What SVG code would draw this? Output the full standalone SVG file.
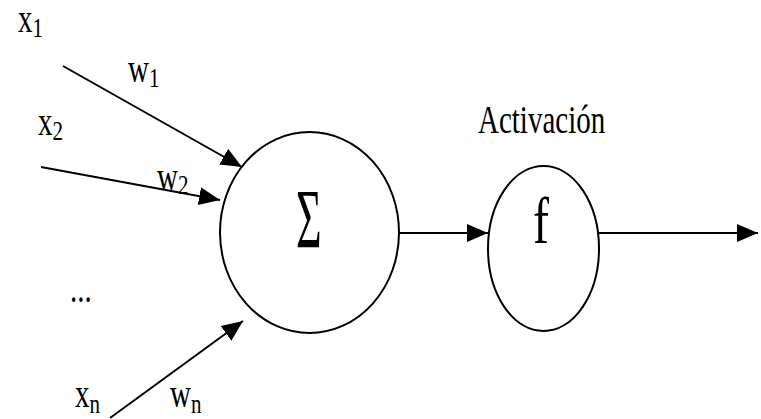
<svg xmlns="http://www.w3.org/2000/svg" width="761" height="419" viewBox="0 0 761 419">
<style>
.t{font-family:"Liberation Serif","Times New Roman",serif;font-size:29px;fill:#000}
.sub{font-size:21px}
.node{fill:#fff;stroke:#000;stroke-width:2}
.edge{stroke:#000;stroke-width:2;fill:none;marker-end:url(#ah)}
</style>
<defs>
<marker id="ah" markerUnits="userSpaceOnUse" markerWidth="22" markerHeight="20" viewBox="0 0 22 20" refX="21" refY="10" orient="auto">
<path d="M0,1 L21,10 L0,19 Z" fill="#000"/>
</marker>
</defs>
<rect width="761" height="419" fill="#fff"/>
<g id="connectors">
<line class="edge" x1="63" y1="66" x2="242" y2="167"/>
<line class="edge" x1="41" y1="167" x2="220" y2="200"/>
<line class="edge" x1="110" y1="418" x2="243" y2="321"/>
<line class="edge" x1="399" y1="233" x2="488" y2="233"/>
<line class="edge" x1="599" y1="233" x2="758" y2="233"/>
</g>
<g id="sum">
<ellipse class="node" cx="309.5" cy="232.5" rx="89.5" ry="100.5"/>
<text class="t" style="font-size:44px" transform="translate(296,248) scale(1,1.9)">Σ</text>
</g>
<g id="activation">
<ellipse class="node" cx="543.5" cy="248.5" rx="55.5" ry="82.5"/>
<text class="t" style="font-size:48px" transform="translate(533,243) scale(1,1.35)">f</text>
<text class="t" transform="translate(478,133) scale(1,1.35)">Activación</text>
</g>
<g id="labels">
<text class="t" transform="translate(18,32) scale(1,1.35)">x<tspan class="sub" dy="4">1</tspan></text>
<text class="t" transform="translate(128,82) scale(1,1.35)">w<tspan class="sub" dy="4">1</tspan></text>
<text class="t" transform="translate(38,135) scale(1,1.35)">x<tspan class="sub" dy="4">2</tspan></text>
<text class="t" transform="translate(157,190) scale(1,1.35)">w<tspan class="sub" dy="3">2</tspan></text>
<text class="t" transform="translate(70,302) scale(1,1.35)">...</text>
<text class="t" transform="translate(75,407) scale(1,1.35)">x<tspan class="sub" dy="4.5">n</tspan></text>
<text class="t" transform="translate(170,407) scale(1,1.35)">w<tspan class="sub" dy="4.5">n</tspan></text>
</g>
</svg>
